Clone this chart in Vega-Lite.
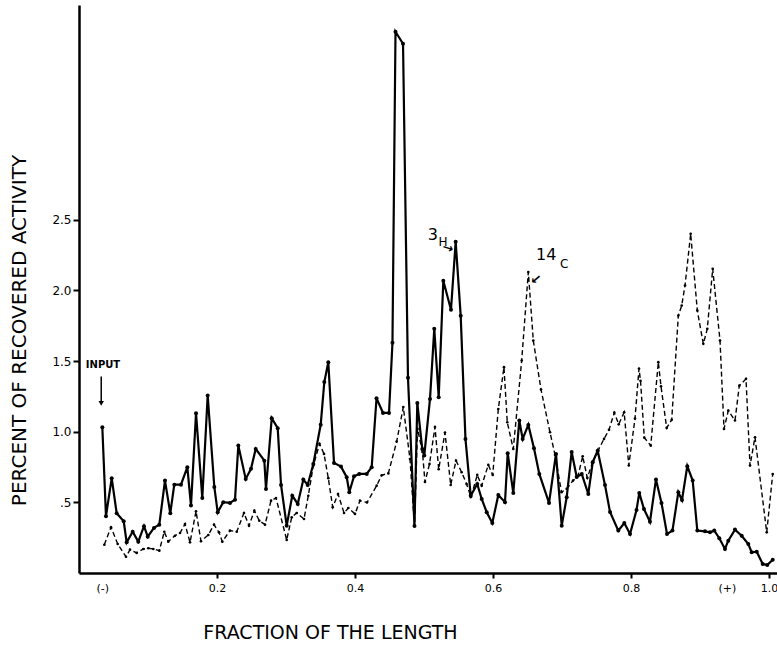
{
  "$schema": "https://vega.github.io/schema/vega-lite/v6.json",
  "autosize": {"type": "none"},
  "width": 698,
  "height": 568,
  "padding": {"left": 79, "top": 5, "right": 0, "bottom": 74},
  "background": "white",
  "config": {
    "view": {"stroke": null},
    "axis": {"domainColor": "black", "domainWidth": 2.5, "tickColor": "black", "tickWidth": 2, "labelColor": "black", "titleColor": "black", "grid": false, "labelFont": "DejaVu Sans", "labelFontSize": 12, "titleFont": "DejaVu Sans", "titleFontWeight": "normal", "titleFontSize": 19}
  },
  "datasets": {
    "h3": [
      {"x":0.0338,"y":1.032},{"x":0.0391,"y":0.402},{"x":0.0474,"y":0.671},{"x":0.0546,"y":0.423},{"x":0.0648,"y":0.366},{"x":0.0691,"y":0.217},{"x":0.0778,"y":0.292},{"x":0.0859,"y":0.222},{"x":0.0942,"y":0.331},{"x":0.0996,"y":0.257},{"x":0.1087,"y":0.319},{"x":0.1164,"y":0.342},{"x":0.1246,"y":0.654},{"x":0.1323,"y":0.423},{"x":0.1381,"y":0.625},{"x":0.1478,"y":0.625},{"x":0.157,"y":0.749},{"x":0.1623,"y":0.477},{"x":0.1696,"y":1.131},{"x":0.1787,"y":0.531},{"x":0.1865,"y":1.256},{"x":0.1961,"y":0.609},{"x":0.201,"y":0.43},{"x":0.2091,"y":0.501},{"x":0.2188,"y":0.496},{"x":0.2261,"y":0.519},{"x":0.2309,"y":0.902},{"x":0.2416,"y":0.666},{"x":0.2493,"y":0.737},{"x":0.2561,"y":0.878},{"x":0.2686,"y":0.795},{"x":0.271,"y":0.595},{"x":0.2793,"y":1.096},{"x":0.288,"y":1.025},{"x":0.2928,"y":0.623},{"x":0.301,"y":0.335},{"x":0.3091,"y":0.547},{"x":0.317,"y":0.489},{"x":0.3251,"y":0.661},{"x":0.3314,"y":0.623},{"x":0.3396,"y":0.772},{"x":0.3503,"y":1.05},{"x":0.3555,"y":1.351},{"x":0.3613,"y":1.492},{"x":0.3696,"y":0.779},{"x":0.3797,"y":0.753},{"x":0.388,"y":0.678},{"x":0.3917,"y":0.572},{"x":0.3986,"y":0.685},{"x":0.4062,"y":0.701},{"x":0.417,"y":0.701},{"x":0.4242,"y":0.749},{"x":0.4312,"y":1.237},{"x":0.4406,"y":1.133},{"x":0.4493,"y":1.133},{"x":0.4543,"y":1.629},{"x":0.4587,"y":3.831},{"x":0.4696,"y":3.746},{"x":0.4768,"y":1.381},{"x":0.4862,"y":0.333},{"x":0.4903,"y":1.204},{"x":0.4975,"y":0.878},{"x":0.5004,"y":0.831},{"x":0.5087,"y":1.232},{"x":0.5149,"y":1.728},{"x":0.5213,"y":1.244},{"x":0.528,"y":2.068},{"x":0.5391,"y":1.863},{"x":0.5459,"y":2.344},{"x":0.5532,"y":1.82},{"x":0.5601,"y":0.949},{"x":0.5677,"y":0.547},{"x":0.5772,"y":0.63},{"x":0.5836,"y":0.524},{"x":0.5909,"y":0.43},{"x":0.599,"y":0.354},{"x":0.6077,"y":0.552},{"x":0.6174,"y":0.501},{"x":0.6213,"y":0.848},{"x":0.6294,"y":0.567},{"x":0.6381,"y":1.079},{"x":0.643,"y":0.949},{"x":0.6512,"y":1.048},{"x":0.6594,"y":0.883},{"x":0.6671,"y":0.701},{"x":0.6812,"y":0.496},{"x":0.6913,"y":0.843},{"x":0.6996,"y":0.335},{"x":0.7068,"y":0.536},{"x":0.714,"y":0.857},{"x":0.7213,"y":0.68},{"x":0.7286,"y":0.701},{"x":0.7381,"y":0.559},{"x":0.7445,"y":0.784},{"x":0.7517,"y":0.866},{"x":0.7623,"y":0.623},{"x":0.7696,"y":0.432},{"x":0.7816,"y":0.3},{"x":0.7903,"y":0.354},{"x":0.7986,"y":0.276},{"x":0.808,"y":0.446},{"x":0.812,"y":0.567},{"x":0.8188,"y":0.453},{"x":0.8275,"y":0.363},{"x":0.8362,"y":0.662},{"x":0.8442,"y":0.496},{"x":0.8522,"y":0.276},{"x":0.8601,"y":0.3},{"x":0.8686,"y":0.572},{"x":0.8739,"y":0.517},{"x":0.8816,"y":0.756},{"x":0.8894,"y":0.654},{"x":0.8961,"y":0.3},{"x":0.9072,"y":0.295},{"x":0.9145,"y":0.288},{"x":0.9207,"y":0.3},{"x":0.928,"y":0.246},{"x":0.9362,"y":0.17},{"x":0.941,"y":0.229},{"x":0.9507,"y":0.307},{"x":0.9604,"y":0.264},{"x":0.97,"y":0.205},{"x":0.9749,"y":0.147},{"x":0.9822,"y":0.151},{"x":0.9909,"y":0.064},{"x":0.9975,"y":0.057},{"x":1.0054,"y":0.094}
    ],
    "c14": [
      {"x":0.0367,"y":0.2},{"x":0.0464,"y":0.324},{"x":0.0561,"y":0.205},{"x":0.0681,"y":0.115},{"x":0.0739,"y":0.165},{"x":0.0836,"y":0.142},{"x":0.0932,"y":0.17},{"x":0.1004,"y":0.175},{"x":0.1077,"y":0.17},{"x":0.1164,"y":0.158},{"x":0.1236,"y":0.292},{"x":0.1294,"y":0.222},{"x":0.1391,"y":0.264},{"x":0.1464,"y":0.283},{"x":0.1536,"y":0.347},{"x":0.1609,"y":0.217},{"x":0.1696,"y":0.437},{"x":0.1768,"y":0.225},{"x":0.1874,"y":0.269},{"x":0.1957,"y":0.342},{"x":0.2029,"y":0.288},{"x":0.2077,"y":0.222},{"x":0.2188,"y":0.3},{"x":0.2286,"y":0.292},{"x":0.2391,"y":0.425},{"x":0.2464,"y":0.335},{"x":0.2541,"y":0.441},{"x":0.2613,"y":0.37},{"x":0.2696,"y":0.342},{"x":0.2783,"y":0.512},{"x":0.2855,"y":0.531},{"x":0.301,"y":0.234},{"x":0.3083,"y":0.394},{"x":0.3155,"y":0.425},{"x":0.3261,"y":0.382},{"x":0.3323,"y":0.547},{"x":0.3396,"y":0.76},{"x":0.3486,"y":0.914},{"x":0.3551,"y":0.843},{"x":0.3613,"y":0.671},{"x":0.3677,"y":0.465},{"x":0.3754,"y":0.559},{"x":0.3841,"y":0.425},{"x":0.3903,"y":0.46},{"x":0.4,"y":0.418},{"x":0.4072,"y":0.512},{"x":0.4174,"y":0.499},{"x":0.4314,"y":0.618},{"x":0.4387,"y":0.692},{"x":0.4483,"y":0.705},{"x":0.4604,"y":0.93},{"x":0.47,"y":1.174},{"x":0.4797,"y":0.807},{"x":0.4862,"y":0.333},{"x":0.4906,"y":1.02},{"x":0.4978,"y":0.857},{"x":0.5014,"y":0.644},{"x":0.508,"y":0.772},{"x":0.5159,"y":1.034},{"x":0.5213,"y":0.734},{"x":0.5304,"y":0.994},{"x":0.5387,"y":0.623},{"x":0.5464,"y":0.795},{"x":0.5546,"y":0.713},{"x":0.5617,"y":0.63},{"x":0.5681,"y":0.538},{"x":0.5772,"y":0.694},{"x":0.5836,"y":0.618},{"x":0.5932,"y":0.765},{"x":0.5996,"y":0.694},{"x":0.6077,"y":1.161},{"x":0.6159,"y":1.457},{"x":0.6207,"y":1.067},{"x":0.6294,"y":0.878},{"x":0.6416,"y":1.504},{"x":0.6512,"y":2.13},{"x":0.6584,"y":1.645},{"x":0.6696,"y":1.298},{"x":0.6826,"y":0.996},{"x":0.6899,"y":0.836},{"x":0.6993,"y":0.572},{"x":0.7068,"y":0.595},{"x":0.716,"y":0.654},{"x":0.7232,"y":0.687},{"x":0.73,"y":0.826},{"x":0.7367,"y":0.673},{"x":0.7449,"y":0.793},{"x":0.7522,"y":0.866},{"x":0.7609,"y":0.949},{"x":0.7681,"y":1.013},{"x":0.7758,"y":1.135},{"x":0.7822,"y":1.052},{"x":0.7901,"y":1.138},{"x":0.7968,"y":0.761},{"x":0.8058,"y":1.093},{"x":0.8116,"y":1.447},{"x":0.8138,"y":1.36},{"x":0.8193,"y":0.958},{"x":0.8286,"y":0.902},{"x":0.8396,"y":1.492},{"x":0.8435,"y":1.321},{"x":0.8517,"y":1.027},{"x":0.859,"y":1.084},{"x":0.8686,"y":1.822},{"x":0.8735,"y":1.893},{"x":0.8783,"y":2.035},{"x":0.8865,"y":2.401},{"x":0.8961,"y":1.858},{"x":0.9048,"y":1.622},{"x":0.9106,"y":1.728},{"x":0.9184,"y":2.153},{"x":0.929,"y":1.645},{"x":0.9348,"y":1.02},{"x":0.941,"y":1.149},{"x":0.9507,"y":1.079},{"x":0.957,"y":1.326},{"x":0.9667,"y":1.374},{"x":0.9725,"y":0.76},{"x":0.9797,"y":0.961},{"x":0.9967,"y":0.288},{"x":1.0054,"y":0.701}
    ],
    "bigLabels": [
      {"x":0.513,"y":2.39,"t":"3"},
      {"x":0.677,"y":2.25,"t":"14"}
    ],
    "smallLabels": [
      {"x":0.5275,"y":2.34,"t":"H"},
      {"x":0.703,"y":2.19,"t":"C"}
    ],
    "arrows": [
      {"x":0.5345,"y":2.3,"t":"→","a":18},
      {"x":0.662,"y":2.08,"t":"→","a":140}
    ],
    "input": [{"x":0.0348,"y":1.475,"t":"INPUT"}],
    "inputArrow": [{"x":0.0322,"y":1.39,"y2":1.2}]
  },
  "layer": [
    {
      "data": {"name": "c14"},
      "mark": {"type": "line", "color": "black", "strokeWidth": 1.4, "strokeDash": [5, 3], "point": {"filled": true, "size": 7, "color": "black"}},
      "encoding": {
        "x": {"field": "x", "type": "quantitative", "scale": {"domain": [0, 1.0116], "nice": false, "zero": false},
          "axis": {"values": [0.0338, 0.2, 0.4, 0.6, 0.8, 0.939, 1.0],
            "labelExpr": "datum.value < 0.1 ? '(-)' : (datum.value > 0.93 && datum.value < 0.95 ? '(+)' : format(datum.value, '.1f'))",
            "tickSize": 5, "labelPadding": 4, "labelFontSize": 11,
            "tickOpacity": {"condition": {"test": "datum.value < 0.1 || (datum.value > 0.93 && datum.value < 0.95)", "value": 0}, "value": 1},
            "title": "FRACTION OF THE LENGTH", "titleY": 50, "titleX": 251}},
        "y": {"field": "y", "type": "quantitative", "scale": {"domain": [0, 4.02], "nice": false},
          "axis": {"values": [0.5, 1, 1.5, 2, 2.5],
            "labelExpr": "datum.value == 0.5 ? '.5' : format(datum.value, '.1f')",
            "tickSize": 6, "labelPadding": 2,
            "title": "PERCENT OF RECOVERED ACTIVITY", "titleFontSize": 20, "titleX": -50, "titleY": 325}}
      }
    },
    {
      "data": {"name": "h3"},
      "mark": {"type": "line", "color": "black", "strokeWidth": 2.2, "point": {"filled": true, "size": 16, "color": "black"}},
      "encoding": {
        "x": {"field": "x", "type": "quantitative"},
        "y": {"field": "y", "type": "quantitative"}
      }
    },
    {
      "data": {"name": "bigLabels"},
      "mark": {"type": "text", "font": "DejaVu Sans", "fontSize": 16, "color": "black"},
      "encoding": {"x": {"field": "x", "type": "quantitative"}, "y": {"field": "y", "type": "quantitative"}, "text": {"field": "t"}}
    },
    {
      "data": {"name": "smallLabels"},
      "mark": {"type": "text", "font": "DejaVu Sans", "fontSize": 12, "color": "black"},
      "encoding": {"x": {"field": "x", "type": "quantitative"}, "y": {"field": "y", "type": "quantitative"}, "text": {"field": "t"}}
    },
    {
      "data": {"name": "arrows"},
      "mark": {"type": "text", "font": "DejaVu Sans", "fontSize": 13, "fontWeight": "bold", "color": "black"},
      "encoding": {"x": {"field": "x", "type": "quantitative"}, "y": {"field": "y", "type": "quantitative"}, "text": {"field": "t"}, "angle": {"field": "a", "type": "quantitative", "scale": null}}
    },
    {
      "data": {"name": "input"},
      "mark": {"type": "text", "font": "DejaVu Sans", "fontSize": 10, "fontWeight": "bold", "color": "black"},
      "encoding": {"x": {"field": "x", "type": "quantitative"}, "y": {"field": "y", "type": "quantitative"}, "text": {"field": "t"}}
    },
    {
      "data": {"name": "inputArrow"},
      "mark": {"type": "rule", "color": "black", "strokeWidth": 1.5},
      "encoding": {"x": {"field": "x", "type": "quantitative"}, "y": {"field": "y", "type": "quantitative"}, "y2": {"field": "y2"}}
    },
    {
      "data": {"name": "inputArrow"},
      "mark": {"type": "point", "shape": "triangle-down", "filled": true, "size": 30, "color": "black", "opacity": 1},
      "encoding": {"x": {"field": "x", "type": "quantitative"}, "y": {"field": "y2", "type": "quantitative"}}
    }
  ]
}
